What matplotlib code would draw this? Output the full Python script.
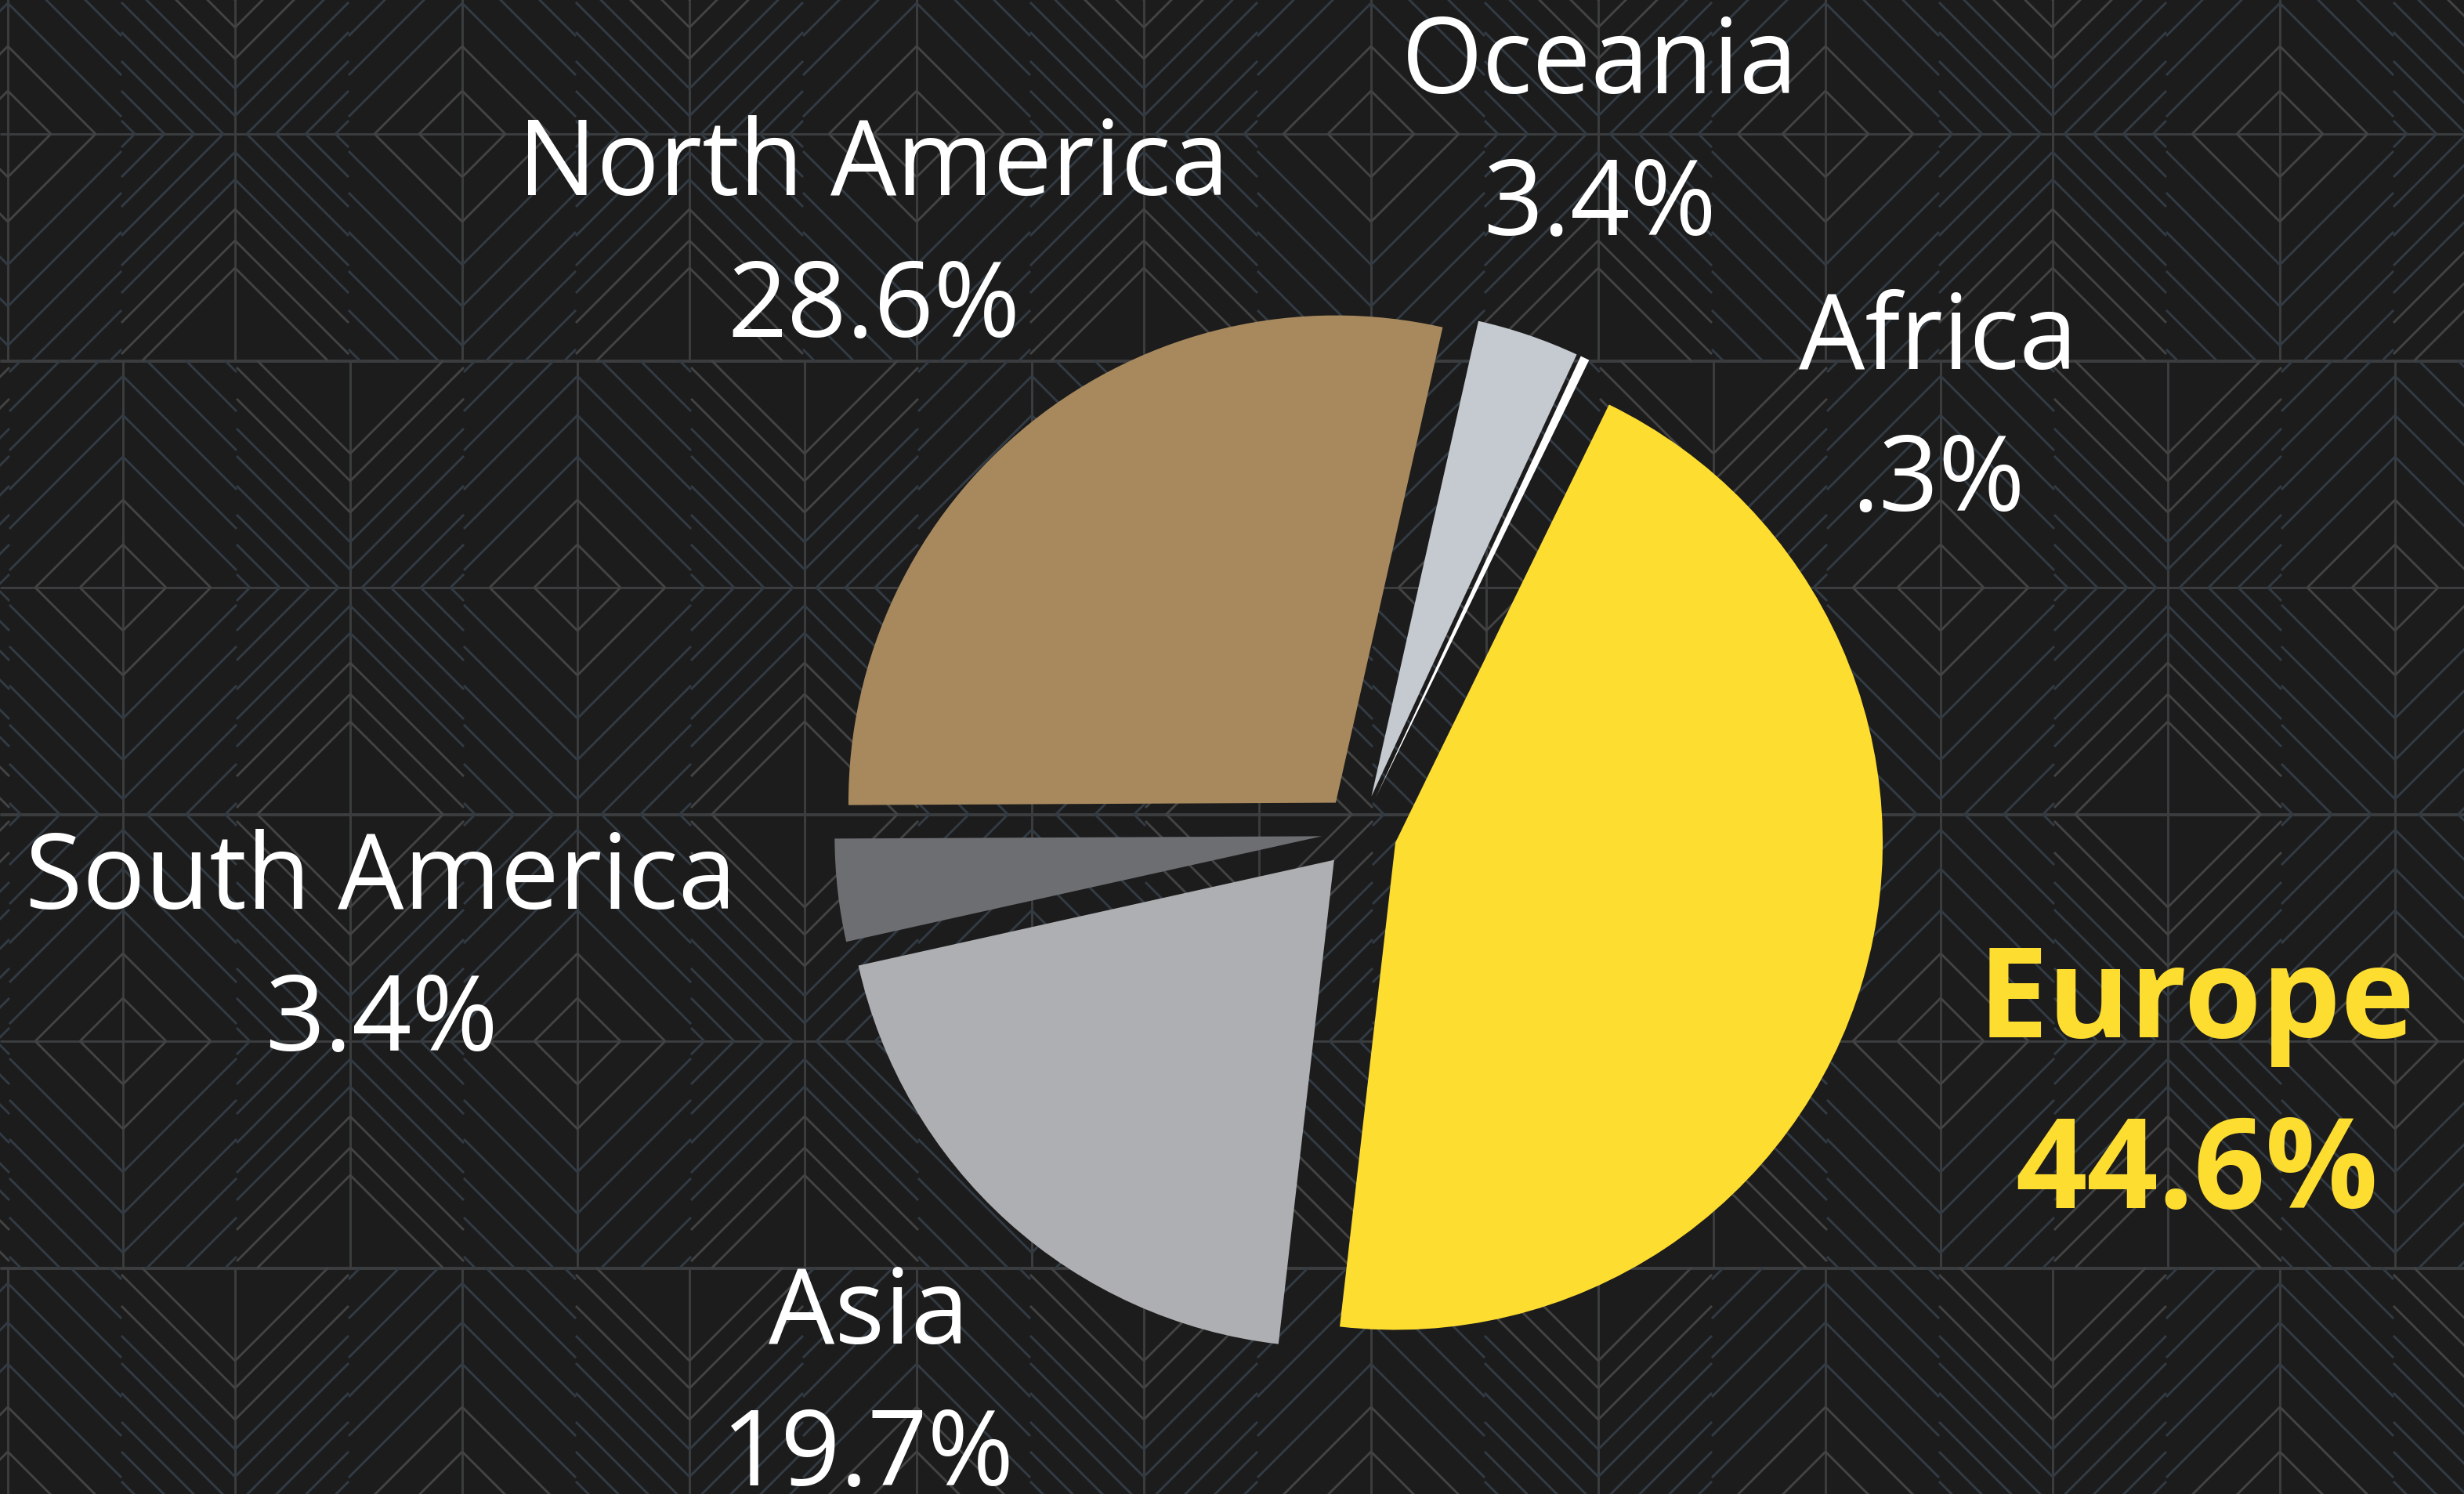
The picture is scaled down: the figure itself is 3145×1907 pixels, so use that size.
import numpy as np
import matplotlib.pyplot as plt
from matplotlib.collections import LineCollection

W, H = 3145, 1908

# data
regions = ['Europe', 'Asia', 'South America', 'North America', 'Oceania', 'Africa']
shares = [44.6, 19.7, 3.4, 28.6, 3.4, 0.3]
share_text = ['44.6%', '19.7%', '3.4%', '28.6%', '3.4%', '.3%']
colors = ['#FEDD31', '#AEAFB2', '#6D6E72', '#A8895E', '#C5C9D0', '#FFFFFF']

# label layout (distance in radii from centre, angle nudge in degrees)
label_dist = [1.79, 1.505, 2.02, 1.59, 1.53, 1.48]
label_nudge = [0, 0, 0, 0, 0, -27.9]

bg = '#1c1c1c'
fig = plt.figure(figsize=(W / 100, H / 100), dpi=100)
fig.patch.set_facecolor(bg)
ax = fig.add_axes([0, 0, 1, 1])
ax.set_facecolor(bg)

# background: art-deco pattern of diamond / cross cells
cw, ch = 145, 290  # half width, half height of one cell
diamond_r = [55, 112, 167, 220, 270, 320, 370, 420]
cross_a = [-128, -90, -52, -15, 23, 58, 96, 136, 171]


def sy_(y):
    return H - y  # screen y -> data y


def diamond(cx, cy, r):
    lo, hi = max(0, r - ch), min(cw, r)
    if lo >= hi:
        return []
    return [[(cx + sx * lo, sy_(cy + sy * (r - lo))), (cx + sx * hi, sy_(cy + sy * (r - hi)))]
            for sx in (-1, 1) for sy in (-1, 1)]


def cross(cx, cy, a):
    lo, hi = max(0, -a), min(cw, ch - a)
    if lo >= hi:
        return []
    return [[(cx + sx * lo, sy_(cy + sy * (a + lo))), (cx + sx * hi, sy_(cy + sy * (a + hi)))]
            for sx in (-1, 1) for sy in (-1, 1)]


grey, blue, axis_lines = [], [], []
band_centres = [-407, 172, 751, 1330, 1909]
band_offsets = [157, 10, 157, 157, 10]
for cy, off in zip(band_centres, band_offsets):
    for y in (cy - ch, cy, cy + ch):
        axis_lines.append([(0, sy_(y)), (W, sy_(y))])
    for j in range(-1, 12):
        cx = off + 2 * cw * j
        axis_lines.append([(cx, sy_(cy - ch)), (cx, sy_(cy + ch))])
        if j % 2 == 0:
            for r in diamond_r:
                (grey if r < 150 else blue).extend(diamond(cx, cy, r))
        else:
            for a in cross_a:
                (grey if a > 80 else blue).extend(cross(cx, cy, a))

ax.add_collection(LineCollection(axis_lines, colors='#3b3d3f', linewidths=2.1, zorder=0))
ax.add_collection(LineCollection(grey, colors='#434343', linewidths=2.1, zorder=0))
ax.add_collection(LineCollection(blue, colors='#323b44', linewidths=2.1, zorder=0))

# pie
R = 622
centre = (1735, H - 1063)
wedges, _ = ax.pie(shares, colors=colors, startangle=64, counterclock=False,
                   explode=[48] * len(shares), radius=R, center=centre,
                   wedgeprops=dict(linewidth=0))
for w in wedges:
    w.set_zorder(2)

for i, w in enumerate(wedges):
    ang = np.deg2rad((w.theta1 + w.theta2) / 2 + label_nudge[i])
    px = centre[0] + label_dist[i] * R * np.cos(ang)
    py = centre[1] + label_dist[i] * R * np.sin(ang)
    if regions[i] == 'Europe':
        size, weight, col, cap, gap = 115, 'bold', '#FEDD31', 115, 218
    else:
        size, weight, col, cap, gap = 96, 'normal', 'white', 95, 181
    ax.text(px, py + gap / 2 - cap / 2, regions[i], ha='center', va='baseline',
            fontsize=size, fontweight=weight, color=col, family='Open Sans', zorder=3)
    ax.text(px, py - gap / 2 - cap / 2, share_text[i], ha='center', va='baseline',
            fontsize=size, fontweight=weight, color=col, family='Open Sans', zorder=3)

ax.set_xlim(0, W)
ax.set_ylim(0, H)
ax.axis('off')

fig.savefig('out.png', dpi=100, facecolor=bg)
